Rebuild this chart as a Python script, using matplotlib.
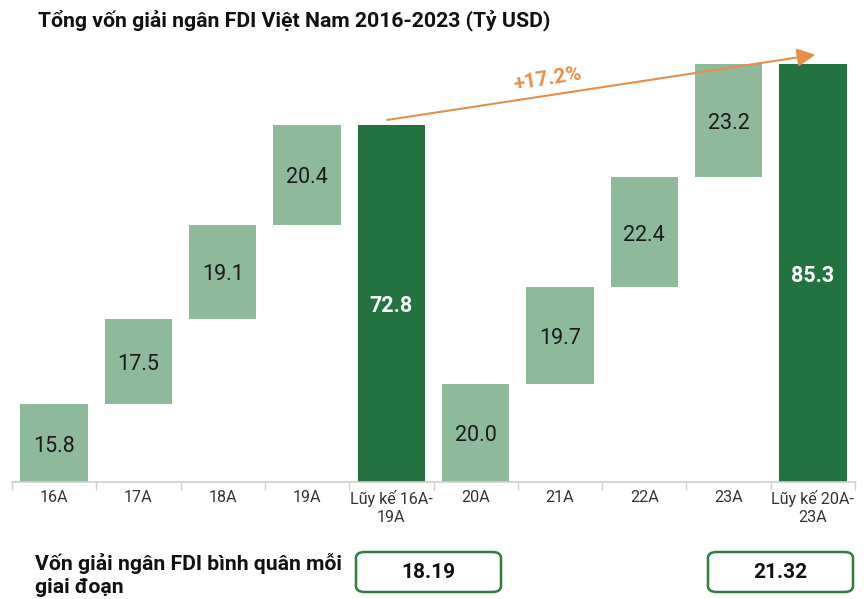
import matplotlib
matplotlib.use("Agg")
import matplotlib.pyplot as plt
from matplotlib.patches import FancyBboxPatch
import numpy as np

plt.rcParams['font.family'] = ['Roboto', 'DejaVu Sans']

# DATA
categories = ['16A', '17A', '18A', '19A', 'Lũy kế 16A-\n19A',
              '20A', '21A', '22A', '23A', 'Lũy kế 20A-\n23A']
period1 = [15.8, 17.5, 19.1, 20.4]
period2 = [20.0, 19.7, 22.4, 23.2]
total1 = 72.8
total2 = 85.3
growth_label = '+17.2%'
avg_values = ['18.19', '21.32']
avg_label = 'Vốn giải ngân FDI bình quân mỗi\ngiai đoạn'
title = 'Tổng vốn giải ngân FDI Việt Nam 2016-2023 (Tỷ USD)'

LIGHT = '#8fb99b'
DARK = '#237240'
ORANGE = '#e58f4a'

# waterfall geometry from the data
heights, bottoms, colors, is_total = [], [], [], []
for vals, tot in ((period1, total1), (period2, total2)):
    run = 0
    for v in vals:
        heights.append(v)
        bottoms.append(run)
        colors.append(LIGHT)
        is_total.append(False)
        run += v
    heights.append(tot)
    bottoms.append(0)
    colors.append(DARK)
    is_total.append(True)

fig = plt.figure(figsize=(8.67, 5.99), dpi=100)
ax = fig.add_axes([12 / 867, 117 / 599, 843 / 867, 442 / 599])

x = np.arange(len(categories))
ax.bar(x, heights, bottom=bottoms, width=0.8, color=colors)

for xi, h, b, tot in zip(x, heights, bottoms, is_total):
    if tot:
        ax.text(xi, b + h / 2 - 0.6, f'{h:.1f}', ha='center', va='center',
                fontsize=15.5, color='white', fontweight='bold')
    else:
        ax.text(xi, b + h / 2 - 0.6, f'{h:.1f}', ha='center', va='center',
                fontsize=15.5, color='#1a1a1a')

ax.set_xlim(-0.5, len(categories) - 0.5)
ax.set_ylim(0, 90.1)
ax.set_xticks(x)
ax.set_xticklabels(categories, fontsize=11.6, color='#333333', linespacing=1.2)
ax.set_xticks(np.arange(-0.5, len(categories)), minor=True)
ax.tick_params(axis='x', which='major', length=0, pad=6)
ax.tick_params(axis='x', which='minor', length=6, color='#d0d0d0', width=1)
ax.set_yticks([])
for s in ['top', 'right', 'left']:
    ax.spines[s].set_visible(False)
ax.spines['bottom'].set_color('#d0d0d0')
ax.spines['bottom'].set_linewidth(1.2)

# growth arrow between the two cumulative bars
i1 = categories.index('Lũy kế 16A-\n19A')
i2 = len(categories) - 1
ax.annotate('', xy=(i2 + 0.03, total2 + 1.8), xytext=(i1 - 0.05, total1 + 1.0),
            arrowprops=dict(arrowstyle='-|>,head_length=1.1,head_width=0.55',
                            color=ORANGE, lw=1.5, shrinkA=0, shrinkB=0))
ax.text(5.85, total1 + 9.3, growth_label, ha='center', va='center',
        fontsize=15, fontweight='bold', color=ORANGE, rotation=9)

fig.text(38 / 867, 1 - 20 / 599, title, ha='left', va='center',
         fontsize=15.3, fontweight='bold', color='#111111')

# bottom summary
fig.text(35 / 867, 1 - 575 / 599, avg_label, ha='left', va='center',
         fontsize=15.2, fontweight='bold', color='#111111', linespacing=1.25)
for (xl, xr), val in zip(((356, 501), (708, 853)), avg_values):
    box = FancyBboxPatch((xl / 867, 1 - 592 / 599), (xr - xl) / 867, 40 / 599,
                         boxstyle='round,pad=0,rounding_size=0.01',
                         transform=fig.transFigure, facecolor='white',
                         edgecolor='#2e7d3e', linewidth=1.8)
    fig.patches.append(box)
    fig.text((xl + xr) / 2 / 867, 1 - 572 / 599, val, ha='center', va='center',
             fontsize=15, fontweight='bold', color='#111111')

fig.savefig('out.png', dpi=100)
